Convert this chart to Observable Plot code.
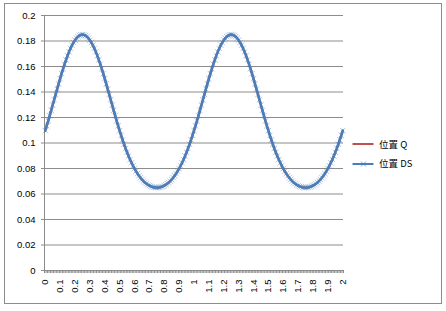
<!DOCTYPE html>
<html><head><meta charset="utf-8">
<script src="https://cdn.jsdelivr.net/npm/d3@7"></script>
<script src="https://cdn.jsdelivr.net/npm/@observablehq/plot@0.6"></script>
<style>
body{margin:0;background:#fff}
#wrap{position:relative;width:446px;height:311px;overflow:hidden}
#frame{position:absolute;left:4px;top:3px;width:436px;height:299px;border:1px solid #8c8c8c;box-sizing:content-box}
#chart{position:absolute;left:0;top:0}
.lg{position:absolute;font:9.5px "Noto Sans CJK SC",sans-serif;color:#000;white-space:nowrap;line-height:12px}
</style></head><body>
<div id="wrap"><div id="frame"></div><div id="chart"></div></div>
<script>
// Series names and colours
const seriesNames = ["位置 Q", "位置 DS"];
const seriesColors = ["#c0504d", "#4a7ebb"];

// Category axis: x from 0 to 2 in steps of 0.01 (201 categories)
const xs = d3.range(0, 201).map(i => i / 100);

// Values (位置 DS), one per category
const posDS = [
0.1097,0.1135,0.1174,0.1215,0.1256,0.1298,0.1339,0.1381,0.1423,0.1464,
0.1505,0.1544,0.1582,0.1618,0.1652,0.1685,0.1715,0.1742,0.1767,0.1788,
0.1807,0.1822,0.1834,0.1843,0.1848,0.1850,0.1848,0.1843,0.1834,0.1822,
0.1807,0.1788,0.1767,0.1742,0.1715,0.1685,0.1652,0.1618,0.1582,0.1544,
0.1505,0.1464,0.1423,0.1381,0.1339,0.1298,0.1256,0.1215,0.1174,0.1135,
0.1097,0.1060,0.1024,0.0990,0.0957,0.0927,0.0898,0.0870,0.0845,0.0821,
0.0799,0.0779,0.0760,0.0743,0.0728,0.0714,0.0701,0.0690,0.0681,0.0672,
0.0666,0.0660,0.0656,0.0652,0.0651,0.0650,0.0651,0.0652,0.0656,0.0660,
0.0666,0.0672,0.0681,0.0690,0.0701,0.0714,0.0728,0.0743,0.0760,0.0779,
0.0799,0.0821,0.0845,0.0870,0.0898,0.0927,0.0957,0.0990,0.1024,0.1060,
0.1097,0.1135,0.1174,0.1215,0.1256,0.1298,0.1339,0.1381,0.1423,0.1464,
0.1505,0.1544,0.1582,0.1618,0.1652,0.1685,0.1715,0.1742,0.1767,0.1788,
0.1807,0.1822,0.1834,0.1843,0.1848,0.1850,0.1848,0.1843,0.1834,0.1822,
0.1807,0.1788,0.1767,0.1742,0.1715,0.1685,0.1652,0.1618,0.1582,0.1544,
0.1505,0.1464,0.1423,0.1381,0.1339,0.1298,0.1256,0.1215,0.1174,0.1135,
0.1097,0.1060,0.1024,0.0990,0.0957,0.0927,0.0898,0.0870,0.0845,0.0821,
0.0799,0.0779,0.0760,0.0743,0.0728,0.0714,0.0701,0.0690,0.0681,0.0672,
0.0666,0.0660,0.0656,0.0652,0.0651,0.0650,0.0651,0.0652,0.0656,0.0660,
0.0666,0.0672,0.0681,0.0690,0.0701,0.0714,0.0728,0.0743,0.0760,0.0779,
0.0799,0.0821,0.0845,0.0870,0.0898,0.0927,0.0957,0.0990,0.1024,0.1060,
0.1097
];
// 位置 Q lies exactly under 位置 DS in the picture
const posQ = posDS.slice();

// Tick values and labels
const yTicks = [0, 0.02, 0.04, 0.06, 0.08, 0.1, 0.12, 0.14, 0.16, 0.18, 0.2];
const yTickLabels = ["0","0.02","0.04","0.06","0.08","0.1","0.12","0.14","0.16","0.18","0.2"];
const xTicks = [0,0.1,0.2,0.3,0.4,0.5,0.6,0.7,0.8,0.9,1,1.1,1.2,1.3,1.4,1.5,1.6,1.7,1.8,1.9,2];
const xTickLabels = ["0","0.1","0.2","0.3","0.4","0.5","0.6","0.7","0.8","0.9","1","1.1","1.2","1.3","1.4","1.5","1.6","1.7","1.8","1.9","2"];

const data = xs.map((x, i) => ({x, q: posQ[i], ds: posDS[i]}));
const step = 0.01;
const xBounds = xs.map(x => x - step / 2).concat([xs[xs.length - 1] + step / 2]);
const gridCol = "#8c8c8c";

const chart = Plot.plot({
  width: 446, height: 311,
  marginLeft: 44, marginRight: 103, marginTop: 15, marginBottom: 41,
  style: {fontFamily: "'Liberation Sans', Arial, sans-serif", fontSize: "9.5px", color: "#000", background: "transparent"},
  x: {domain: [xBounds[0], xBounds[xBounds.length - 1]]},
  y: {domain: [0, 0.2]},
  marks: [
    Plot.gridY(yTicks.slice(1), {stroke: gridCol, strokeOpacity: 1}),
    Plot.ruleX([xBounds[0]], {stroke: gridCol}),
    Plot.ruleY([0], {stroke: gridCol}),
    Plot.axisY(yTicks, {tickSize: 3, tickPadding: 6, stroke: gridCol, fill: "#000",
      tickFormat: d => yTickLabels[yTicks.indexOf(d)], label: null}),
    Plot.axisX(xBounds, {tickSize: 3, stroke: gridCol, tickFormat: () => "", label: null}),
    Plot.axisX(xTicks, {tickSize: 0, tickPadding: 9, tickRotate: -90, fill: "#000",
      tickFormat: d => xTickLabels[xTicks.indexOf(d)], label: null}),
    Plot.line(data, {x: "x", y: "q", stroke: seriesColors[0], strokeWidth: 2.25}),
    Plot.line(data, {x: "x", y: "ds", stroke: seriesColors[1], strokeWidth: 2.5}),
    Plot.dot(data, {x: "x", y: "ds", symbol: "times", r: 2.6, stroke: seriesColors[1], strokeWidth: 0.8, strokeOpacity: 0.55})
  ]
});
document.getElementById("chart").appendChild(chart);

// Legend (right side, inside the chart frame)
const wrap = document.getElementById("wrap");
const legendY = [144.3, 163.7];
seriesNames.forEach((name, i) => {
  const sw = document.createElementNS("http://www.w3.org/2000/svg", "svg");
  sw.setAttribute("width", 24); sw.setAttribute("height", 10);
  sw.style.position = "absolute"; sw.style.left = "351px"; sw.style.top = (legendY[i] - 5) + "px";
  let inner = `<line x1="1.5" x2="22.5" y1="5" y2="5" stroke="${seriesColors[i]}" stroke-width="2"/>`;
  if (i === 1) inner += `<path d="M10,2.5L15,7.5M15,2.5L10,7.5" stroke="${seriesColors[i]}" stroke-width="1" stroke-opacity="0.7"/>`;
  sw.innerHTML = inner;
  wrap.appendChild(sw);
  const t = document.createElement("div");
  t.className = "lg"; t.textContent = name;
  t.style.left = "379px"; t.style.top = (legendY[i] - 6.5) + "px";
  wrap.appendChild(t);
});
</script>
</body></html>
